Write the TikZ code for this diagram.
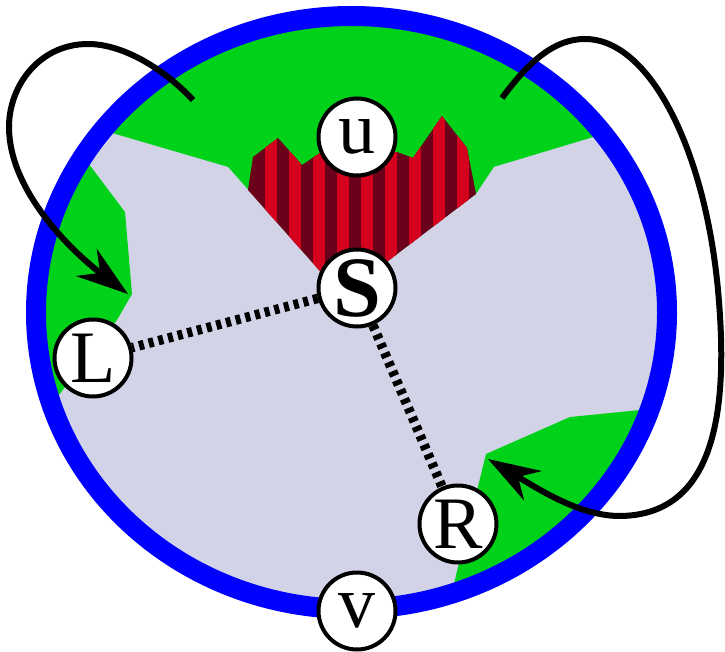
\documentclass[tikz,border=0pt]{standalone}
\usepackage{fontspec}
\setmainfont{Liberation Serif}
\newfontfamily\tmsfont{Liberation Serif}
\usetikzlibrary{arrows.meta}
\definecolor{grn}{RGB}{0,210,26}
\definecolor{lav}{RGB}{211,211,232}
\definecolor{blu}{RGB}{0,0,255}
\definecolor{dkred}{RGB}{107,0,26}
\definecolor{brred}{RGB}{212,0,30}
\newcommand{\nodefont}{\tmsfont\fontsize{74}{76}\selectfont}
\newcommand{\sfontbig}{\tmsfont\bfseries\fontsize{86}{88}\selectfont}
\begin{document}
\begin{tikzpicture}[x=1pt,y=-1pt,
  vnode/.style={circle,draw,line width=4pt,fill=white,minimum size=77pt,inner sep=0pt},
  link/.style={line width=9.5pt,dash pattern=on 5pt off 5pt},
  loopy/.style={line width=6pt,-{Stealth[length=52pt,width=34pt,inset=17pt]}}]
\useasboundingbox (0,0) rectangle (725,652);
\begin{scope}
  \clip (351.5,312.5) ellipse [x radius=315.5pt, y radius=296.5pt];
  \fill[grn] (0,0) rectangle (725,652);
  \fill[lav] (40,112) -- (228,167) -- (342,296) -- (476,194) -- (494,167) -- (680,111) -- (725,111) -- (725,652) -- (0,652) -- (0,112) -- cycle;
  \fill[grn] (0,139) -- (70,139) -- (125,212) -- (132,294) -- (117,320) -- (55,400) -- (20,440) -- (0,440) -- cycle;
  \fill[grn] (725,404) -- (700,404) -- (570,417) -- (486,454) -- (445,620) -- (445,652) -- (725,652) -- cycle;
  \fill[dkred] (248,190) -- (253,157) -- (278,138) -- (302,165) -- (320,153) -- (357,158) -- (397,152) -- (413,158) -- (442,116) -- (467,148) -- (476,194) -- (342,296) -- cycle;
  \begin{scope}
    \clip (248,190) -- (253,157) -- (278,138) -- (302,165) -- (320,153) -- (357,158) -- (397,152) -- (413,158) -- (442,116) -- (467,148) -- (476,194) -- (342,296) -- cycle;
    \foreach \k in {0,...,9} {
      \fill[brred] ({265+24*\k},100) rectangle ({277+24*\k},300);
    }
  \end{scope}
\end{scope}
\draw[blu,line width=20pt] (351.5,312.5) ellipse [x radius=315.5pt, y radius=296.5pt];
\node[vnode] (u) at (357,137) {\nodefont u};
\node[vnode] (S) at (357,288) {\sfontbig S};
\node[vnode] (L) at (93,358) {\nodefont L};
\node[vnode] (R) at (458,524) {\nodefont R};
\node[vnode] (v) at (357,611) {\nodefont v};
\draw[link] (S) -- (L);
\draw[link] (S) -- (R);
\coordinate (a1) at (193,100);
\coordinate (a2) at (128,294);
\coordinate (b1) at (502,98);
\coordinate (b2) at (488,459);
\draw[loopy] (a1) .. controls (160,65) and (120,44) .. (88,44) .. controls (40,44) and (9,85) .. (9,127) .. controls (9,190) and (70,250) .. (a2);
\draw[loopy] (b1) .. controls (530,60) and (555,39) .. (585,39) .. controls (650,39) and (705,150) .. (718,290) .. controls (728,400) and (720,515) .. (620,516) .. controls (580,516) and (540,490) .. (b2);
\end{tikzpicture}
\end{document}
